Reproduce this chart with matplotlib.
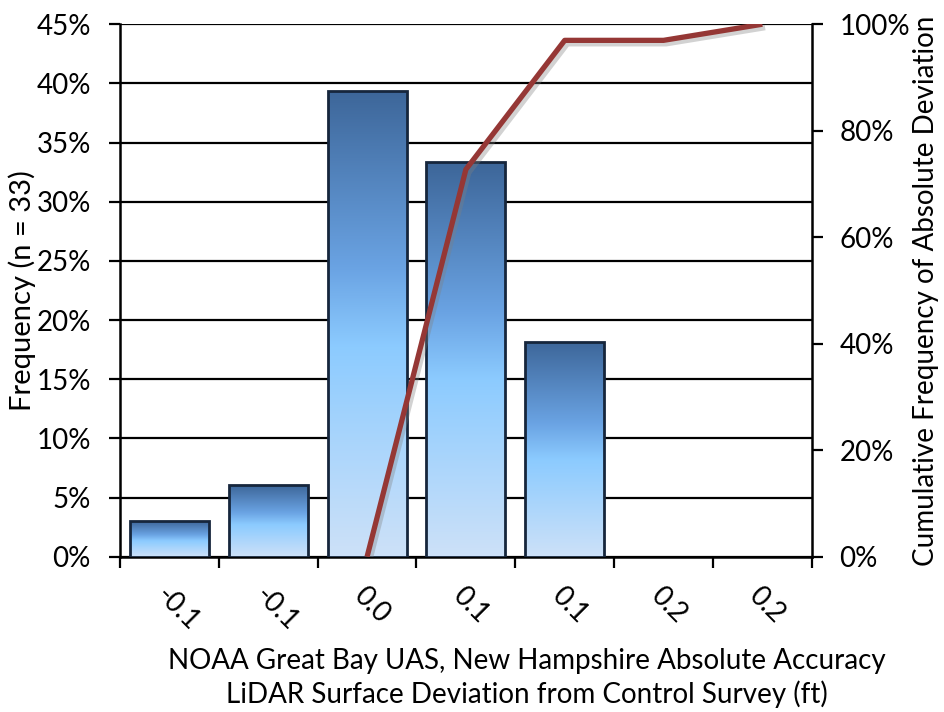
import numpy as np
import matplotlib
matplotlib.use("Agg")
import matplotlib.pyplot as plt
from matplotlib.colors import LinearSegmentedColormap
from matplotlib.ticker import FuncFormatter, MultipleLocator, FixedLocator
import matplotlib.patheffects as pe

plt.rcParams['font.family'] = ['Lato', 'DejaVu Sans']

# Deviation bins and data
categories = ["-0.1", "-0.1", "0.0", "0.1", "0.1", "0.2", "0.2"]
frequency = [3.03, 6.06, 39.39, 33.33, 18.18, 0.0, 0.0]          # percent of n = 33
cumulative = [None, None, 0.0, 72.73, 96.97, 96.97, 100.0]         # percent, absolute deviation

FS = 20

fig = plt.figure(figsize=(9.45, 7.12), dpi=100)
ax = fig.add_axes([0.127, 0.218, 0.732, 0.748])
ax2 = ax.twinx()

x = np.arange(len(categories))

# gradient fill for bars: dark steel blue at top to pale blue at base
grad = LinearSegmentedColormap.from_list(
    "bar", [(0.0, "#3d6699"), (0.38, "#6aa3e3"), (0.55, "#8ccbff"), (1.0, "#cde1f8")])
width = 0.8
for xi, h in zip(x, frequency):
    if h <= 0:
        continue
    bars = ax.bar(xi, h, width=width, color="none", edgecolor="#16263c",
                  linewidth=2.0, zorder=4)
    rect = bars[0]
    img = ax.imshow(np.linspace(0, 1, 256).reshape(-1, 1), cmap=grad, aspect="auto",
                    extent=[xi - width / 2, xi + width / 2, 0, h], origin="upper",
                    zorder=3)
    img.set_clip_path(rect)
ax.set_xlim(-0.5, len(categories) - 0.5)
ax.set_ylim(0, 45)

# gridlines
ax.yaxis.set_major_locator(MultipleLocator(5))
ax.grid(axis="y", color="black", linewidth=1.6, zorder=1)
ax.set_axisbelow(True)
ax.yaxis.set_major_formatter(FuncFormatter(lambda v, p: f"{v:.0f}%"))

# x ticks at bin edges, labels at centres
ax.xaxis.set_major_locator(FixedLocator(np.arange(-0.5, len(categories), 1.0)))
ax.xaxis.set_major_formatter(FuncFormatter(lambda v, p: ""))
ax.xaxis.set_minor_locator(FixedLocator(x))
ax.set_xticklabels(categories, minor=True, rotation=-45, ha="left", va="top",
                   rotation_mode="anchor")
ax.tick_params(axis="x", which="minor", length=0, pad=18, labelsize=FS)
ax.tick_params(axis="x", which="major", length=8, width=1.6, direction="out")
ax.tick_params(axis="y", length=8, width=1.6, direction="out", labelsize=FS, pad=13)

for s in ["top", "right"]:
    ax.spines[s].set_visible(False)
for s in ["left", "bottom"]:
    ax.spines[s].set_linewidth(1.8)

# cumulative line on secondary axis
cx = [xi for xi, c in zip(x, cumulative) if c is not None]
cy = [c for c in cumulative if c is not None]
ax2.plot(cx, cy, color="#953735", linewidth=3.8, solid_capstyle="butt", zorder=6,
         path_effects=[pe.SimpleLineShadow(offset=(2, -2.5), shadow_color="#808080", alpha=0.35),
                       pe.Normal()])
ax2.set_ylim(0, 100)
ax2.yaxis.set_major_locator(MultipleLocator(20))
ax2.yaxis.set_major_formatter(FuncFormatter(lambda v, p: f"{v:.0f}%"))
ax2.tick_params(axis="y", length=8, width=1.6, direction="out", labelsize=FS, pad=12)
for s in ["top", "left", "bottom"]:
    ax2.spines[s].set_visible(False)
ax2.spines["right"].set_linewidth(1.8)
ax.set_zorder(1)
ax2.set_zorder(2)
ax2.patch.set_visible(False)

ax.set_ylabel("Frequency (n = 33)", fontsize=21, labelpad=0)
ax2.set_ylabel("Cumulative Frequency of Absolute Deviation", fontsize=FS, labelpad=2)
ax.set_xlabel("NOAA Great Bay UAS, New Hampshire Absolute Accuracy\n"
              "LiDAR Surface Deviation from Control Survey (ft)",
              fontsize=FS, linespacing=1.25)
ax.xaxis.set_label_coords(0.588, -0.172, transform=ax.transAxes)
ax.xaxis.label.set_va("top")

fig.savefig("out.png", dpi=100)
